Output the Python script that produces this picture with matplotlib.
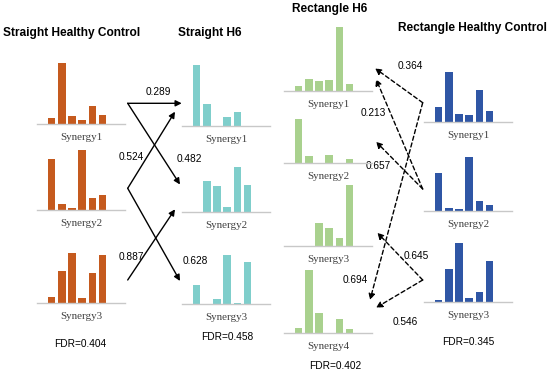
import matplotlib
matplotlib.use("Agg")
import matplotlib.pyplot as plt

# ---------------- data ----------------
synergy_names = ["Synergy1", "Synergy2", "Synergy3", "Synergy4"]
group_titles = ["Straight Healthy Control", "Straight H6", "Rectangle H6", "Rectangle Healthy Control"]

straight_hc = [
    [0.105, 1.01, 0.14, 0.067, 0.305, 0.15],
    [0.855, 0.105, 0.028, 1.005, 0.195, 0.245],
    [0.095, 0.53, 0.83, 0.083, 0.495, 0.795],
]
straight_h6 = [
    [1.01, 0.37, 0.0, 0.15, 0.22, 0.0],
    [0.0, 0.53, 0.44, 0.083, 0.76, 0.46],
    [0.31, 0.0, 0.078, 0.82, 0.017, 0.70],
]
rect_h6 = [
    [0.083, 0.20, 0.157, 0.183, 1.06, 0.107],
    [0.72, 0.11, 0.0, 0.133, 0.0, 0.057],
    [0.0, 0.0, 0.38, 0.30, 0.125, 1.01],
    [0.083, 1.055, 0.333, 0.0, 0.243, 0.072],
]
rect_hc = [
    [0.26, 0.84, 0.133, 0.117, 0.533, 0.183],
    [0.625, 0.042, 0.033, 0.89, 0.17, 0.095],
    [0.038, 0.56, 0.99, 0.077, 0.177, 0.69],
]
fdr_labels = ["FDR=0.404", "FDR=0.458", "FDR=0.402", "FDR=0.345"]

# similarity values (source synergy -> target synergy)
straight_links = [(0, 0, "0.289"), (0, 1, "0.482"), (1, 0, "0.524"), (1, 2, "0.628"), (2, 1, "0.887")]
rect_links = [(0, 0, "0.364"), (0, 3, "0.694"), (1, 0, "0.213"), (1, 1, "0.657"), (2, 2, "0.645"), (2, 3, "0.546")]

# ---------------- layout / style ----------------
W, H = 550, 374
colors = ["#C55A1E", "#7FCECB", "#A9D18E", "#2F56A5"]
panel_left = [37, 182, 284, 424]
baselines = [
    [124, 210, 302.7],
    [125.7, 212.3, 304],
    [90.7, 162.7, 245.5, 333.3],
    [122.3, 210.8, 302.3],
]
panel_w = 88
unit_px = 60
ymax = 1.12
title_pos = [(71.5, 33), (210, 33), (330, 9), (472.5, 28)]
fdr_pos = [(80, 344), (227, 337), (335, 366), (468, 342)]

SANS = ["Liberation Sans", "DejaVu Sans"]
SERIF = ["Liberation Serif", "DejaVu Serif"]

fig = plt.figure(figsize=(W / 100, H / 100), dpi=100)
ov = fig.add_axes([0, 0, 1, 1])
ov.set_xlim(0, W)
ov.set_ylim(H, 0)
ov.axis("off")

groups = [straight_hc, straight_h6, rect_h6, rect_hc]
for g, data in enumerate(groups):
    for s, vals in enumerate(data):
        base = baselines[g][s]
        ax = fig.add_axes([panel_left[g] / W, (H - base) / H, panel_w / W, ymax * unit_px / H])
        ax.bar(range(len(vals)), vals, width=0.75, color=colors[g], linewidth=0)
        ax.set_xlim(-1.42, 7.2)
        ax.set_ylim(0, ymax)
        for sp in ["top", "right", "left"]:
            ax.spines[sp].set_visible(False)
        ax.spines["bottom"].set_color("#C8C8C8")
        ax.spines["bottom"].set_linewidth(1.0)
        ax.set_xticks([])
        ax.set_yticks([])
        ax.patch.set_alpha(0)
        ov.text(panel_left[g] + panel_w / 2, base + 13.5, synergy_names[s], ha="center", va="center",
                fontsize=7.9, family=SERIF, color="#404040")
    ov.text(title_pos[g][0], title_pos[g][1], group_titles[g], ha="center", va="center",
            fontsize=8.6, fontweight="bold", family=SANS, color="black")
    ov.text(fdr_pos[g][0], fdr_pos[g][1], fdr_labels[g], ha="center", va="center",
            fontsize=7.3, family=SANS, color="black")

# arrow geometry (figure pixels)
straight_src = [(127.7, 103.3), (127.7, 188.3), (127.7, 280)]
straight_dst = {(0, 0): (181.7, 103.3), (0, 1): (180, 184.5), (1, 0): (175, 111.7),
                (1, 2): (180, 281), (2, 1): (175, 209.3)}
straight_lab = {(0, 0): (158, 91.7), (0, 1): (189, 159.3), (1, 0): (131, 157.3),
                (1, 2): (195, 260.7), (2, 1): (131, 257.3)}
rect_src = [(422.7, 102.7), (422.7, 189), (422.7, 280)]
rect_dst = {(0, 0): (375, 68.3), (0, 3): (370, 300), (1, 0): (376, 79), (1, 1): (376, 141.7),
            (2, 2): (377.3, 232.7), (2, 3): (376, 307.7)}
rect_lab = {(0, 0): (410, 65.7), (0, 3): (355, 280), (1, 0): (373, 113.3), (1, 1): (378, 165.7),
            (2, 2): (416.7, 255.7), (2, 3): (405, 321.7)}

for a, b, lab in straight_links:
    ov.annotate("", xy=straight_dst[(a, b)], xytext=straight_src[a],
                arrowprops=dict(arrowstyle="-|>", color="black", lw=1.0, mutation_scale=9,
                                shrinkA=0, shrinkB=0))
    x, y = straight_lab[(a, b)]
    ov.text(x, y, lab, ha="center", va="center", fontsize=7.3, family=SANS, color="black")

for a, b, lab in rect_links:
    ov.annotate("", xy=rect_dst[(a, b)], xytext=rect_src[a],
                arrowprops=dict(arrowstyle="-|>", color="black", lw=1.0, mutation_scale=9,
                                linestyle=(0, (3, 2)), shrinkA=0, shrinkB=0))
    x, y = rect_lab[(a, b)]
    ov.text(x, y, lab, ha="center", va="center", fontsize=7.3, family=SANS, color="black")

fig.savefig("out.png", dpi=100)
